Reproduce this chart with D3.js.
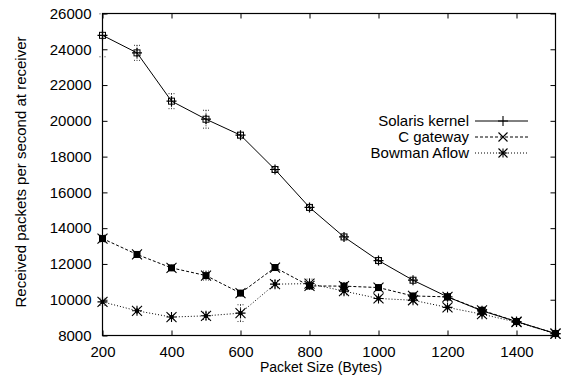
<!DOCTYPE html>
<html><head><meta charset="utf-8">
<script src="https://cdn.jsdelivr.net/npm/d3@7/dist/d3.min.js"></script>
<style>
body{margin:0;background:#fff;}
text{font-family:"Liberation Sans",Arial,Helvetica,sans-serif;fill:#000;}
</style></head>
<body><svg id="c" width="568" height="378"></svg>
<script>
const sizes = [200,300,400,500,600,700,800,900,1000,1100,1200,1300,1400,1513];
const solaris = [24780,23800,21100,20090,19200,17280,15160,13510,12190,11090,10160,9380,8780,8110];
const cgateway = [13420,12530,11780,11350,10370,11800,10770,10760,10680,10210,10160,9410,8780,8110];
const bowman = [9880,9380,9030,9100,9250,10870,10900,10480,10070,9970,9570,9190,8750,8100];
const solarisErr = [1200,420,420,500,150,100,100,100,100,100,100,100,80,80];
const cgatewayErr = [200,150,150,250,150,150,200,200,150,150,150,150,100,100];
const bowmanErr = [200,150,150,200,470,200,250,200,150,150,150,150,100,100];
const xTicks = [200,400,600,800,1000,1200,1400];
const yTicks = [8000,10000,12000,14000,16000,18000,20000,22000,24000,26000];
const seriesNames = ["Solaris kernel","C gateway","Bowman Aflow"];

const svg = d3.select("#c");
const L=102.5, R=555.5, T=13.5, B=335.5;
const x = d3.scaleLinear().domain([200,1513]).range([L,R]);
const y = d3.scaleLinear().domain([8000,26000]).range([B,T]);

const ax = svg.append("g").attr("transform",`translate(0,${B})`)
  .call(d3.axisBottom(x).tickValues(xTicks).tickSizeInner(-5).tickSizeOuter(0).tickPadding(11).tickFormat(d3.format("d")));
const axTop = svg.append("g").attr("transform",`translate(0,${T})`)
  .call(d3.axisTop(x).tickValues(xTicks).tickSizeInner(-5).tickSizeOuter(0).tickFormat(""));
const ay = svg.append("g").attr("transform",`translate(${L},0)`)
  .call(d3.axisLeft(y).tickValues(yTicks).tickSizeInner(-5).tickSizeOuter(0).tickPadding(11).tickFormat(d3.format("d")));
const ayR = svg.append("g").attr("transform",`translate(${R},0)`)
  .call(d3.axisRight(y).tickValues(yTicks).tickSizeInner(-5).tickSizeOuter(0).tickFormat(""));
[ax,axTop,ay,ayR].forEach(g=>{g.select(".domain").remove();g.selectAll("line").attr("stroke","#000");g.selectAll("text").style("font-size","15px").attr("font-family",null);});
ax.selectAll("text").attr("dy","0.71em");

svg.append("rect").attr("x",L).attr("y",T).attr("width",R-L).attr("height",B-T)
  .attr("fill","none").attr("stroke","#000").attr("stroke-width",1.2);

svg.append("text").attr("x",321).attr("y",372).attr("text-anchor","middle").style("font-size","14px").text("Packet Size (Bytes)");
svg.append("text").attr("transform",`translate(26,172) rotate(-90)`).attr("text-anchor","middle").style("font-size","15px").text("Received packets per second at receiver");

const series = [
  {vals:solaris, err:solarisErr, dash:null, mk:"plus"},
  {vals:cgateway, err:cgatewayErr, dash:"3,2", mk:"cross"},
  {vals:bowman, err:bowmanErr, dash:"1,2", mk:"star"}
];
function markerPath(k, s){
  if(k==="plus") return `M${-s},0H${s}M0,${-s}V${s}`;
  if(k==="cross") return `M${-s},${-s}L${s},${s}M${-s},${s}L${s},${-s}`;
  return `M${-s},0H${s}M0,${-s}V${s}M${-s},${-s}L${s},${s}M${-s},${s}L${s},${-s}`;
}
const line = d3.line().x((d,i)=>x(sizes[i])).y(d=>y(d));
series.forEach((s,si)=>{
  const g = svg.append("g");
  s.vals.forEach((v,i)=>{
    const px=x(sizes[i]), y1=y(Math.min(26000,v+s.err[i])), y2=y(v-s.err[i]);
    g.append("path").attr("d",`M${px},${y1}V${y2}M${px-3},${y1}H${px+3}M${px-3},${y2}H${px+3}`)
      .attr("stroke","#000").attr("stroke-width",1).attr("stroke-dasharray","1,1.5").attr("fill","none").attr("opacity",0.8);
  });
  g.append("path").datum(s.vals).attr("d",line).attr("fill","none").attr("stroke","#000").attr("stroke-width",1)
    .attr("stroke-dasharray",s.dash);
  s.vals.forEach((v,i)=>{
    const px=x(sizes[i]), py=y(v);
    const m = g.append("g").attr("transform",`translate(${px},${py})`);
    if(s.mk==="plus"){
      m.append("rect").attr("x",-3).attr("y",-3).attr("width",6).attr("height",6).attr("fill","none").attr("stroke","#000").attr("stroke-width",1);
      m.append("path").attr("d",markerPath("plus",5)).attr("stroke","#000").attr("stroke-width",1.2);
    } else if(s.mk==="cross"){
      m.append("rect").attr("x",-3.5).attr("y",-3.5).attr("width",7).attr("height",7).attr("fill","#000");
      m.append("path").attr("d",markerPath("cross",5)).attr("stroke","#000").attr("stroke-width",1.1);
    } else {
      m.append("rect").attr("x",-2).attr("y",-2).attr("width",4).attr("height",4).attr("fill","#000");
      m.append("path").attr("d",markerPath("star",5)).attr("stroke","#000").attr("stroke-width",1.1);
    }
  });
});

const legY = [121,137,153];
seriesNames.forEach((n,i)=>{
  svg.append("text").attr("x",469).attr("y",legY[i]).attr("dy","0.35em").attr("text-anchor","end").style("font-size","15px").text(n);
  svg.append("line").attr("x1",475).attr("x2",528).attr("y1",legY[i]).attr("y2",legY[i])
    .attr("stroke","#000").attr("stroke-width",1).attr("stroke-dasharray",series[i].dash);
  svg.append("path").attr("transform",`translate(503,${legY[i]})`).attr("d",markerPath(series[i].mk, i===0?5:4.5))
    .attr("stroke","#000").attr("stroke-width",1.1).attr("fill","none");
});
</script></body></html>
